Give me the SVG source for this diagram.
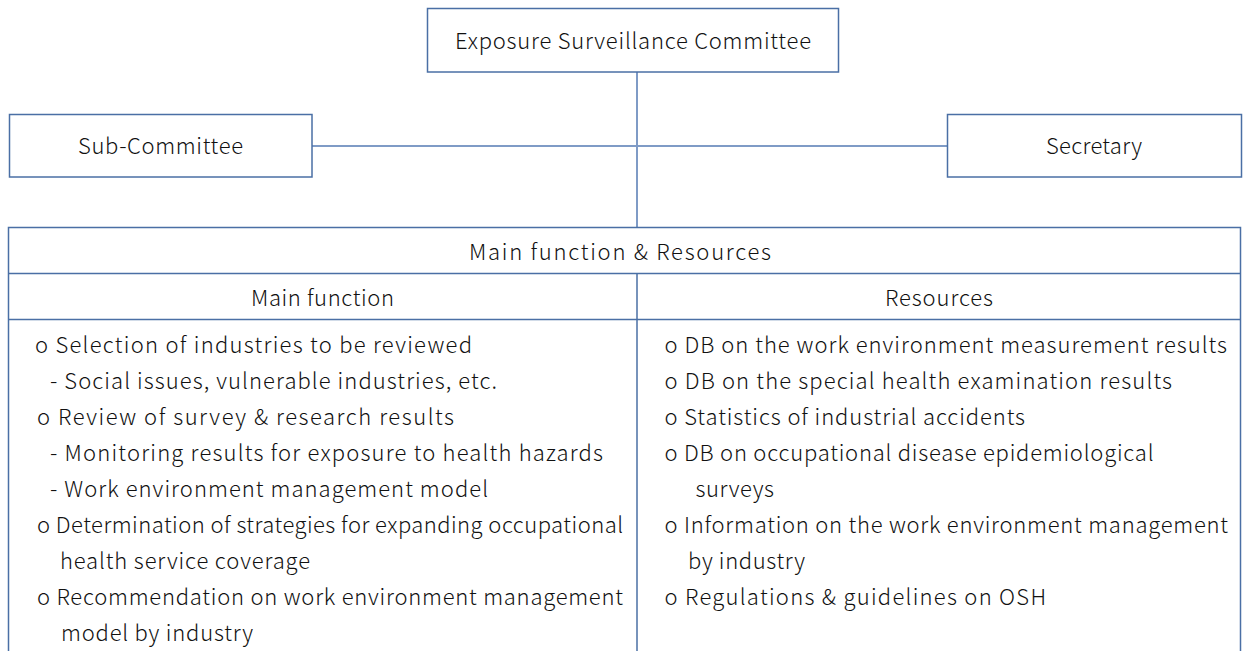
<svg xmlns="http://www.w3.org/2000/svg" width="1243" height="651" viewBox="0 0 1243 651">
  <style>
    .box { fill: #ffffff; stroke: #4a6fa5; stroke-width: 1.5; }
    .conn { fill: none; stroke: #7f9bc6; stroke-width: 2; }
    .grid { fill: none; stroke: #4a6fa5; stroke-width: 1.5; }
    text { font-family: "Noto Sans CJK KR", "Liberation Sans", sans-serif; font-size: 22px; font-weight: 300; fill: #111111; }
    .c { text-anchor: middle; }
  </style>
  <rect width="1243" height="651" fill="#ffffff"/>

  <!-- connectors -->
  <g id="connectors">
    <line class="conn" x1="637" y1="72" x2="637" y2="228"/>
    <line class="conn" x1="312" y1="146" x2="947" y2="146"/>
  </g>

  <g id="committee">
    <rect class="box" x="427.5" y="8.5" width="411" height="63.5"/>
    <text class="c" x="633" y="49" textLength="356" lengthAdjust="spacing">Exposure Surveillance Committee</text>
  </g>

  <g id="sub-committee">
    <rect class="box" x="9.5" y="114.5" width="302.5" height="62.5"/>
    <text class="c" x="160.5" y="154" textLength="165" lengthAdjust="spacing">Sub-Committee</text>
  </g>

  <g id="secretary">
    <rect class="box" x="947.5" y="114.5" width="294" height="62.5"/>
    <text class="c" x="1094" y="154" textLength="96" lengthAdjust="spacing">Secretary</text>
  </g>

  <!-- function and resources table -->
  <g id="functions-table">
    <rect class="grid" x="8.5" y="227.5" width="1232" height="440"/>
    <line class="grid" x1="8.5" y1="273.5" x2="1240.5" y2="273.5"/>
    <line class="grid" x1="8.5" y1="319.5" x2="1240.5" y2="319.5"/>
    <line class="grid" x1="637" y1="273.5" x2="637" y2="660"/>

    <text class="c" x="620" y="260" textLength="302" lengthAdjust="spacing">Main function &amp; Resources</text>
    <text class="c" x="322.5" y="306" textLength="143" lengthAdjust="spacing">Main function</text>
    <text class="c" x="939" y="306" textLength="108" lengthAdjust="spacing">Resources</text>

    <g id="main-function">
      <text x="35" y="353" textLength="437" lengthAdjust="spacing">o Selection of industries to be reviewed</text>
      <text x="50" y="389" textLength="447" lengthAdjust="spacing">- Social issues, vulnerable industries, etc.</text>
      <text x="37" y="425" textLength="417" lengthAdjust="spacing">o Review of survey &amp; research results</text>
      <text x="50" y="461" textLength="553" lengthAdjust="spacing">- Monitoring results for exposure to health hazards</text>
      <text x="50" y="497" textLength="438" lengthAdjust="spacing">- Work environment management model</text>
      <text x="37" y="533" textLength="586" lengthAdjust="spacing">o Determination of strategies for expanding occupational</text>
      <text x="60" y="569" textLength="250" lengthAdjust="spacing">health service coverage</text>
      <text x="37" y="605" textLength="586" lengthAdjust="spacing">o Recommendation on work environment management</text>
      <text x="61" y="641" textLength="192" lengthAdjust="spacing">model by industry</text>
    </g>

    <g id="resources">
      <text x="664.5" y="353" textLength="562.5" lengthAdjust="spacing">o DB on the work environment measurement results</text>
      <text x="664.5" y="389" textLength="507.5" lengthAdjust="spacing">o DB on the special health examination results</text>
      <text x="664.5" y="425" textLength="360.5" lengthAdjust="spacing">o Statistics of industrial accidents</text>
      <text x="664.5" y="461" textLength="489" lengthAdjust="spacing">o DB on occupational disease epidemiological</text>
      <text x="695.5" y="497" textLength="78.5" lengthAdjust="spacing">surveys</text>
      <text x="664.5" y="533" textLength="563.5" lengthAdjust="spacing">o Information on the work environment management</text>
      <text x="688" y="569" textLength="117" lengthAdjust="spacing">by industry</text>
      <text x="664.5" y="605" textLength="381.5" lengthAdjust="spacing">o Regulations &amp; guidelines on OSH</text>
    </g>
  </g>
</svg>
